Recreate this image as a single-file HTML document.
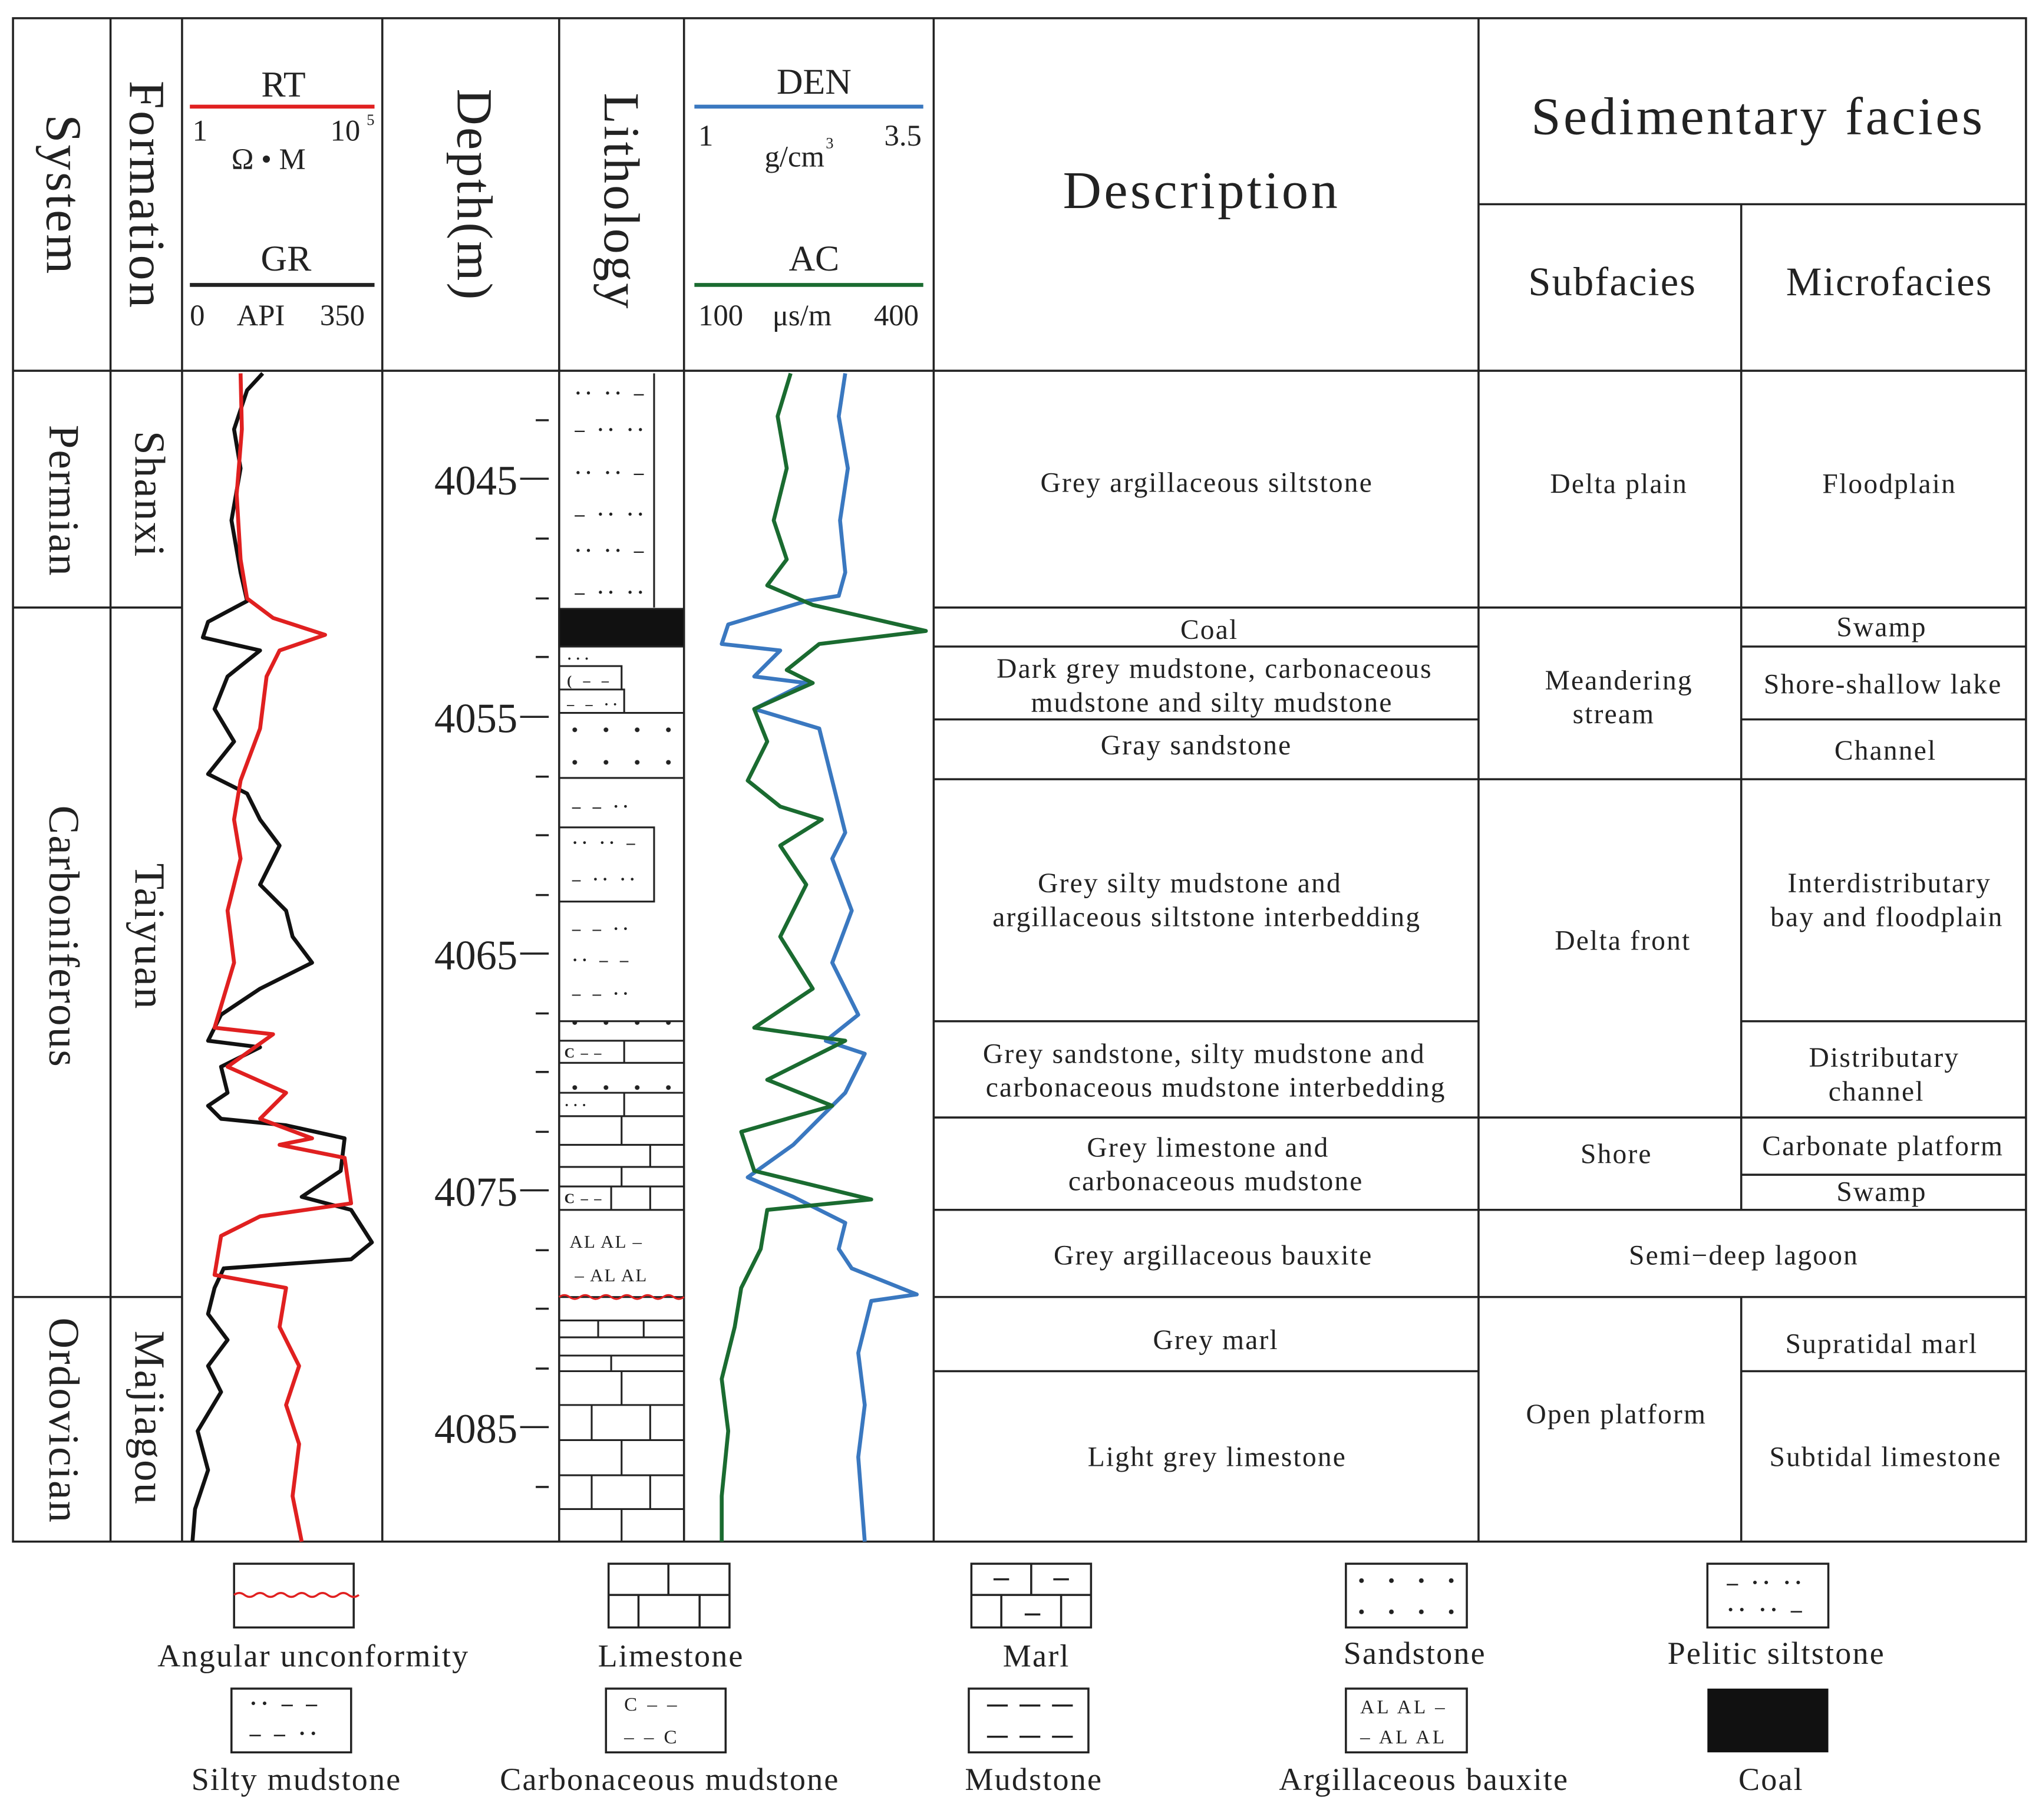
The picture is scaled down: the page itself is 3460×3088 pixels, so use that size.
<!DOCTYPE html>
<html><head><meta charset="utf-8"><style>
html,body{margin:0;padding:0;background:#fff}
svg{display:block}
text{font-family:"Liberation Serif",serif;fill:#222}
</style></head><body>
<svg width="3460" height="3088" viewBox="0 0 1568 1399" preserveAspectRatio="none" xmlns="http://www.w3.org/2000/svg">
<defs>
<pattern id="sd" x="430" y="548" width="24" height="25" patternUnits="userSpaceOnUse"><circle cx="12" cy="13" r="1.8" fill="#222"/></pattern>
<pattern id="sd2" x="1035" y="1202" width="23" height="24" patternUnits="userSpaceOnUse"><circle cx="12" cy="13" r="1.8" fill="#222"/></pattern>
</defs>
<rect width="1568" height="1399" fill="#fff"/>
<rect x="430" y="548" width="96" height="50" fill="url(#sd)"/>
<rect x="430" y="785" width="96" height="15" fill="url(#sd)"/>
<rect x="430" y="817" width="96" height="23" fill="url(#sd)"/>
<rect x="1035" y="1202" width="93" height="49" fill="url(#sd2)"/>
<g stroke="#222" stroke-width="1.6" fill="none">
<rect x="10" y="14" width="1548" height="1171"/>
<line x1="10" y1="285" x2="1558" y2="285"/>
<line x1="85" y1="14" x2="85" y2="1185"/><line x1="140" y1="14" x2="140" y2="1185"/>
<line x1="294" y1="14" x2="294" y2="1185"/><line x1="430" y1="14" x2="430" y2="1185"/>
<line x1="526" y1="14" x2="526" y2="1185"/><line x1="718" y1="14" x2="718" y2="1185"/>
<line x1="1137" y1="14" x2="1137" y2="1185"/>
<line x1="1137" y1="157" x2="1558" y2="157"/>
<line x1="1339" y1="157" x2="1339" y2="930"/><line x1="1339" y1="997" x2="1339" y2="1185"/>
<line x1="10" y1="467" x2="140" y2="467"/><line x1="10" y1="997" x2="140" y2="997"/>
<line x1="718" y1="467" x2="1137" y2="467"/><line x1="718" y1="497" x2="1137" y2="497"/>
<line x1="718" y1="553" x2="1137" y2="553"/><line x1="718" y1="599" x2="1137" y2="599"/>
<line x1="718" y1="785" x2="1137" y2="785"/><line x1="718" y1="859" x2="1137" y2="859"/>
<line x1="718" y1="930" x2="1137" y2="930"/><line x1="718" y1="997" x2="1137" y2="997"/>
<line x1="718" y1="1054" x2="1137" y2="1054"/>
<line x1="1137" y1="467" x2="1339" y2="467"/><line x1="1137" y1="599" x2="1339" y2="599"/>
<line x1="1137" y1="859" x2="1339" y2="859"/><line x1="1137" y1="930" x2="1558" y2="930"/>
<line x1="1137" y1="997" x2="1558" y2="997"/>
<line x1="1339" y1="467" x2="1558" y2="467"/><line x1="1339" y1="497" x2="1558" y2="497"/>
<line x1="1339" y1="553" x2="1558" y2="553"/><line x1="1339" y1="599" x2="1558" y2="599"/>
<line x1="1339" y1="785" x2="1558" y2="785"/><line x1="1339" y1="859" x2="1558" y2="859"/>
<line x1="1339" y1="903" x2="1558" y2="903"/><line x1="1339" y1="1054" x2="1558" y2="1054"/>
<path d="M412 323H422M400 368H422M412 414H422M412 460H422M412 505H422M400 551H422M412 597H422M412 642H422M412 688H422M400 733H422M412 779H422M412 824H422M412 870H422M400 915H422M412 961H422M412 1006H422M412 1052H422M400 1097H422M412 1143H422"/>
</g>
<line x1="146" y1="82" x2="288" y2="82" stroke="#e02020" stroke-width="3"/>
<line x1="146" y1="219" x2="288" y2="219" stroke="#222" stroke-width="3"/>
<line x1="534" y1="82" x2="710" y2="82" stroke="#3a78c0" stroke-width="3"/>
<line x1="534" y1="219" x2="710" y2="219" stroke="#1a6b30" stroke-width="3"/>
<g font-size="28">
<text x="218" y="74" text-anchor="middle">RT</text>
<text x="220" y="208" text-anchor="middle">GR</text>
<text x="626" y="72" text-anchor="middle">DEN</text>
<text x="626" y="208" text-anchor="middle">AC</text>
</g>
<g font-size="23">
<text x="148" y="108">1</text><text x="254" y="108">10</text><text x="282" y="96" font-size="12">5</text>
<text x="178" y="130">Ω • M</text>
<text x="146" y="250">0</text><text x="182" y="250">API</text><text x="246" y="250">350</text>
<text x="537" y="112">1</text><text x="588" y="128">g/cm</text><text x="635" y="114" font-size="12">3</text><text x="680" y="112">3.5</text>
<text x="537" y="250">100</text><text x="594" y="250">μs/m</text><text x="672" y="250">400</text>
</g>
<g font-size="41" letter-spacing="2">
<text x="924" y="160" text-anchor="middle">Description</text>
<text x="1352" y="103" text-anchor="middle">Sedimentary facies</text>
</g>
<g font-size="31" letter-spacing="1">
<text x="1240" y="227" text-anchor="middle">Subfacies</text>
<text x="1453" y="227" text-anchor="middle">Microfacies</text>
</g>
<g font-size="39" letter-spacing="1.5">
<text transform="translate(36,150) rotate(90)" text-anchor="middle">System</text>
<text transform="translate(100,150) rotate(90)" text-anchor="middle">Formation</text>
<text transform="translate(352,150) rotate(90)" text-anchor="middle">Depth(m)</text>
<text transform="translate(465,155) rotate(90)" text-anchor="middle">Lithology</text>
</g>
<g font-size="33" letter-spacing="1">
<text transform="translate(38,385) rotate(90)" text-anchor="middle">Permian</text>
<text transform="translate(38,720) rotate(90)" text-anchor="middle">Carboniferous</text>
<text transform="translate(38,1092) rotate(90)" text-anchor="middle">Ordovician</text>
<text transform="translate(104,380) rotate(90)" text-anchor="middle">Shanxi</text>
<text transform="translate(104,720) rotate(90)" text-anchor="middle">Taiyuan</text>
<text transform="translate(104,1090) rotate(90)" text-anchor="middle">Majiagou</text>
</g>
<g font-size="32" text-anchor="end">
<text x="398" y="380">4045</text><text x="398" y="563">4055</text><text x="398" y="745">4065</text>
<text x="398" y="927">4075</text><text x="398" y="1109">4085</text>
</g>
<g font-size="21.5" text-anchor="middle" letter-spacing="1">
<text x="928" y="378">Grey argillaceous siltstone</text>
<text x="930" y="491">Coal</text>
<text x="934" y="521">Dark grey mudstone, carbonaceous</text>
<text x="932" y="547">mudstone and silty mudstone</text>
<text x="920" y="580">Gray sandstone</text>
<text x="915" y="686">Grey silty mudstone and</text>
<text x="928" y="712">argillaceous siltstone interbedding</text>
<text x="926" y="817">Grey sandstone, silty mudstone and</text>
<text x="935" y="843">carbonaceous mudstone interbedding</text>
<text x="929" y="889">Grey limestone and</text>
<text x="935" y="915">carbonaceous mudstone</text>
<text x="933" y="972">Grey argillaceous bauxite</text>
<text x="935" y="1037">Grey marl</text>
<text x="936" y="1127">Light grey limestone</text>
<text x="1245" y="379">Delta plain</text>
<text x="1245" y="530">Meandering</text>
<text x="1241" y="556">stream</text>
<text x="1248" y="730">Delta front</text>
<text x="1243" y="894">Shore</text>
<text x="1341" y="972">Semi−deep lagoon</text>
<text x="1243" y="1094">Open platform</text>
<text x="1453" y="379">Floodplain</text>
<text x="1447" y="489">Swamp</text>
<text x="1448" y="533">Shore-shallow lake</text>
<text x="1450" y="584">Channel</text>
<text x="1453" y="686">Interdistributary</text>
<text x="1451" y="712">bay and floodplain</text>
<text x="1449" y="820">Distributary</text>
<text x="1443" y="846">channel</text>
<text x="1448" y="888">Carbonate platform</text>
<text x="1447" y="923">Swamp</text>
<text x="1447" y="1040">Supratidal marl</text>
<text x="1450" y="1127">Subtidal limestone</text>
</g>
<g stroke="#222" stroke-width="1.4" fill="none">
<path d="M503 287V467"/>
<rect x="430" y="468" width="96" height="29" fill="#111"/>
<path d="M430 512H478V530M430 530H480V548M430 548H526M430 598H526M430 636H503V693H430M430 785H526M430 800H526M430 817H526M430 840H526M430 858H526M430 912H526M430 930H526M480 800V817M470 912V930M480 840V858"/>
<path d="M430 880H526M430 897H526M478 858V880M500 880V897M478 897V912M500 912V930"/>
<path d="M430 997H526M430 1015H526M430 1028H526M430 1042H526M430 1054H526M430 1080H526M430 1107H526M430 1134H526M430 1160H526"/>
<path d="M478 1054V1080M455 1080V1107M500 1080V1107M478 1107V1134M455 1134V1160M500 1134V1160M478 1160V1185M460 1015V1028M495 1015V1028M470 1042V1054"/>
<path d="M430 997q4 -3 8 0t8 0t8 0t8 0t8 0t8 0t8 0t8 0t8 0t8 0t8 0t8 0" stroke="#e02020"/>
</g>
<g font-size="15" font-weight="bold" fill="#222" letter-spacing="3">
<text x="442" y="307">·· ·· –</text><text x="442" y="335">– ·· ··</text><text x="442" y="368">·· ·· –</text>
<text x="442" y="400">– ·· ··</text><text x="442" y="428">·· ·· –</text><text x="442" y="460">– ·· ··</text>
<text x="436" y="510" font-size="11">···</text><text x="436" y="527" font-size="11">( – –</text><text x="436" y="545" font-size="11">– – ··</text>
<text x="440" y="624" font-size="13">– – ··</text><text x="440" y="652" font-size="13">·· ·· –</text><text x="440" y="680" font-size="13">– ·· ··</text>
<text x="440" y="718" font-size="13">– – ··</text><text x="440" y="742" font-size="13">·· – –</text><text x="440" y="768" font-size="13">– – ··</text>
<text x="434" y="813" font-size="11" letter-spacing="1">C – –</text>
<text x="434" y="853" font-size="11">···</text>
<text x="434" y="925" font-size="11" letter-spacing="1">C – –</text>
<text x="438" y="959" font-size="14" font-weight="normal" letter-spacing="1">AL AL –</text><text x="442" y="985" font-size="14" font-weight="normal" letter-spacing="1">– AL AL</text>
</g>
<g fill="none" stroke-width="3" stroke-linejoin="round">
<polyline stroke="#111" points="202,287 190,300 180,330 185,360 178,400 185,440 190,462 160,478 156,490 200,500 175,520 165,545 180,570 160,595 190,610 200,630 215,650 200,680 220,700 225,720 240,740 200,760 170,780 160,800 200,805 170,820 175,840 160,850 170,860 220,865 265,875 262,900 232,920 270,930 286,955 270,968 172,975 165,990 160,1010 175,1030 160,1050 170,1070 152,1100 160,1130 150,1160 148,1185"/>
<polyline stroke="#e02020" points="185,287 186,330 182,380 185,430 190,460 210,475 250,488 215,500 205,520 200,560 185,600 180,630 185,660 175,700 180,740 165,790 210,795 175,820 220,840 200,860 240,875 215,880 265,890 270,925 200,935 170,950 165,980 220,990 215,1020 230,1050 220,1080 230,1110 225,1150 232,1185"/>
<polyline stroke="#3a78c0" points="650,287 645,320 652,360 646,400 650,440 645,458 620,462 560,480 555,495 600,500 580,520 620,525 580,545 630,560 640,600 650,640 640,660 655,700 640,740 660,780 635,800 665,810 650,840 630,860 610,880 575,905 610,920 650,940 645,960 655,975 705,995 670,1000 660,1040 665,1080 660,1120 665,1185"/>
<polyline stroke="#1a6b30" points="608,287 598,320 605,360 595,400 605,430 590,450 625,465 712,485 630,495 605,515 625,525 580,545 590,570 575,600 600,620 632,630 600,650 620,680 600,720 625,760 580,790 650,800 590,830 640,850 570,870 580,900 670,922 590,930 585,960 570,990 565,1020 555,1060 560,1100 555,1150 555,1185"/>
</g>
<g stroke="#222" stroke-width="1.6" fill="none">
<rect x="180" y="1202" width="92" height="49"/>
<path d="M180 1226q4 -3 8 0t8 0t8 0t8 0t8 0t8 0t8 0t8 0t8 0t8 0t8 0t8 0" stroke="#e02020"/>
<rect x="468" y="1202" width="93" height="49"/>
<path d="M468 1226H561M514 1202V1226M491 1226V1251M538 1226V1251"/>
<rect x="747" y="1202" width="92" height="49"/>
<path d="M747 1226H839M793 1202V1226M770 1226V1251M816 1226V1251M764 1214H776M810 1214H822M788 1241H800"/>
<rect x="1035" y="1202" width="93" height="49"/>
<rect x="1313" y="1202" width="93" height="49"/>
<rect x="178" y="1298" width="92" height="49"/>
<rect x="466" y="1298" width="92" height="49"/>
<rect x="745" y="1298" width="92" height="49"/>
<path d="M759 1311H775M784 1311H800M809 1311H825M759 1335H775M784 1335H800M809 1335H825"/>
<rect x="1035" y="1298" width="93" height="49"/>
</g>
<rect x="1313" y="1298" width="93" height="49" fill="#111"/>
<g font-size="17" font-weight="bold" letter-spacing="3">
<text x="1328" y="1222">– ·· ··</text><text x="1328" y="1243">·· ·· –</text>
<text x="192" y="1315">·· – –</text><text x="192" y="1338">– – ··</text>
</g>
<g font-size="15" letter-spacing="2">
<text x="480" y="1315">C  – –</text><text x="480" y="1340">– –  C</text>
<text x="1046" y="1317">AL AL –</text><text x="1046" y="1340">– AL AL</text>
</g>
<g font-size="24.5" text-anchor="middle" letter-spacing="1">
<text x="241" y="1281">Angular unconformity</text>
<text x="516" y="1281">Limestone</text>
<text x="797" y="1281">Marl</text>
<text x="1088" y="1279">Sandstone</text>
<text x="1366" y="1279">Pelitic siltstone</text>
<text x="228" y="1376">Silty mudstone</text>
<text x="515" y="1376">Carbonaceous mudstone</text>
<text x="795" y="1376">Mudstone</text>
<text x="1095" y="1376">Argillaceous bauxite</text>
<text x="1362" y="1376">Coal</text>
</g>
</svg>
</body></html>
